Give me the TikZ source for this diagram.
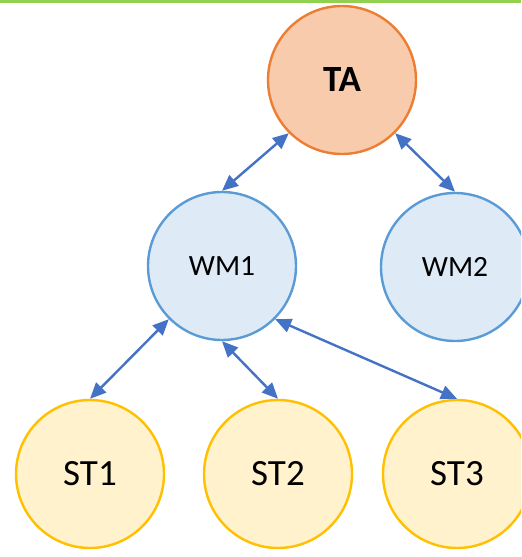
\documentclass[tikz,border=0pt]{standalone}
\usepackage{fontspec}
\setmainfont{Carlito}
\usetikzlibrary{arrows.meta}

\definecolor{tafill}{HTML}{F8CBAD}
\definecolor{taline}{HTML}{ED7D31}
\definecolor{wmfill}{HTML}{DEEBF7}
\definecolor{wmline}{HTML}{5B9BD5}
\definecolor{stfill}{HTML}{FFF2CC}
\definecolor{stline}{HTML}{FFC000}
\definecolor{linkblue}{HTML}{4472C4}
\definecolor{topgreen}{HTML}{92D050}

\begin{document}
\begin{tikzpicture}[x=0.5pt, y=-0.5pt,
    every node/.style={circle, draw, line width=1.2pt, minimum size=74pt, inner sep=0pt},
    ta/.style={fill=tafill, draw=taline, font=\fontsize{18.5}{22}\selectfont\bfseries},
    wm/.style={fill=wmfill, draw=wmline, font=\fontsize{14.7}{18}\selectfont},
    st/.style={fill=stfill, draw=stline, font=\fontsize{18.5}{22}\selectfont},
    link/.style={{Triangle[length=8pt, width=7pt]}-{Triangle[length=8pt, width=7pt]}, line width=1.2pt, draw=linkblue}]
    \useasboundingbox (0,0) rectangle (521,557);
    \clip (0,0) rectangle (521,557);
    \fill[topgreen] (0,0) rectangle (521,2.5);

    \node[ta] (ta) at (342,80) {TA};
    \node[wm] (wm1) at (222,266) {WM1};
    \node[wm] (wm2) at (455,267) {WM2};
    \node[st] (st1) at (90,474) {ST1};
    \node[st] (st2) at (278,474) {ST2};
    \node[st] (st3) at (457,474) {ST3};

    \draw[link] (ta.south west) -- (wm1.north);
    \draw[link] (ta.south east) -- (wm2.north);
    \draw[link] (wm1.south west) -- (st1.north);
    \draw[link] (wm1.south) -- (st2.north);
    \draw[link] (wm1.south east) -- (st3.north);
\end{tikzpicture}
\end{document}
